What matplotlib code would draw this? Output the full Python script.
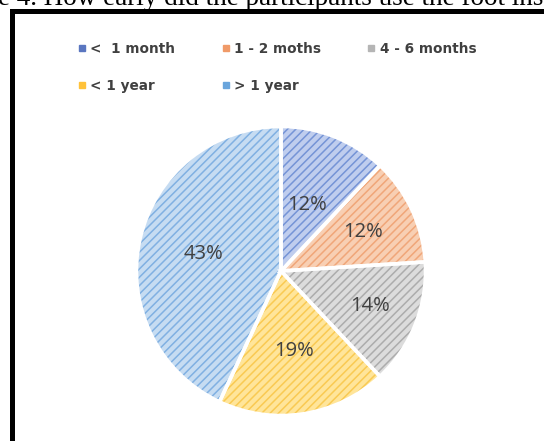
import matplotlib
matplotlib.use('Agg')
import numpy as np
import matplotlib.pyplot as plt
from matplotlib.lines import Line2D

# ── Data ──────────────────────────────────────────────────────────────────
categories = ['<  1 month', '1 - 2 moths', '4 - 6 months', '< 1 year', '> 1 year']
shares = [12, 12, 14, 19, 43]

# ── Style ─────────────────────────────────────────────────────────────────
face_colors  = ['#bfcdee', '#f8cfb3', '#dcdcdc', '#ffe59a', '#c6dcf2']
hatch_colors = ['#7594d6', '#f0a679', '#acacac', '#f9ca52', '#80b0e2']
legend_colors = ['#5a76c0', '#f09a68', '#b5b5b5', '#ffc23a', '#6aa5dc']
label_radius = [0.49, 0.63, 0.66, 0.56, 0.55]
text_gray = '#404040'

W, H = 544, 441
fig = plt.figure(figsize=(W / 100, H / 100), dpi=100)
plt.rcParams['hatch.linewidth'] = 1.1

# pie axes: centre (281, 271) px, radius 146 px
cx, cy, r = 281, 271, 146
ax = fig.add_axes([(cx - r) / W, (H - cy - r) / H, 2 * r / W, 2 * r / H])
ax.axis('off')

wedges, _ = ax.pie(shares, startangle=90, counterclock=False, radius=1.0,
                   center=(0, 0), frame=False)
for w, fc, hc in zip(wedges, face_colors, hatch_colors):
    w.set_facecolor(fc)
    w.set_edgecolor(hc)
    w.set_linewidth(0)
    w.set_hatch('////')

# white separators on top
ax.pie(shares, startangle=90, counterclock=False, radius=1.0,
       center=(0, 0), frame=False,
       wedgeprops=dict(facecolor='none', edgecolor='white', linewidth=2.6))
ax.set_xlim(-1.01, 1.01); ax.set_ylim(-1.01, 1.01)

# percent labels
start = 90.0
for val, rad in zip(shares, label_radius):
    mid = np.deg2rad(start - val * 3.6 / 2)
    ax.text(rad * np.cos(mid), rad * np.sin(mid), f'{val}%',
            ha='center', va='center', fontsize=14.5, color=text_gray,
            family='Open Sans')
    start -= val * 3.6

# legend, filled column by column -> reorder so rows read left to right
handles = [Line2D([], [], marker='s', linestyle='none', markersize=4.4,
                  markerfacecolor=c, markeredgecolor=c) for c in legend_colors]
order = [0, 3, 1, 4, 2]
leg = fig.legend([handles[i] for i in order], [categories[i] for i in order],
                 ncols=3, loc='upper left', bbox_to_anchor=(66 / W, 1 - 30 / H),
                 frameon=False, handlelength=0.6, handletextpad=0.3,
                 columnspacing=3.4, labelspacing=1.65,
                 prop=dict(family='DejaVu Sans', weight='bold', size=9.8))
for t in leg.get_texts():
    t.set_color(text_gray)

# frame lines along the left and top
fig.add_artist(Line2D([11.5 / W, 11.5 / W, 1.0], [0.0, 1 - 11 / H, 1 - 11 / H],
                      transform=fig.transFigure, color='black', linewidth=3.6,
                      solid_joinstyle='miter'))

# caption running above the frame
fig.text(-2 / W, 1 - 5 / H, 'e 4. How early did the participants use the foot ins',
         ha='left', va='baseline', fontsize=19.5, family='Liberation Serif',
         color='black')

fig.savefig('out.png', dpi=100)
